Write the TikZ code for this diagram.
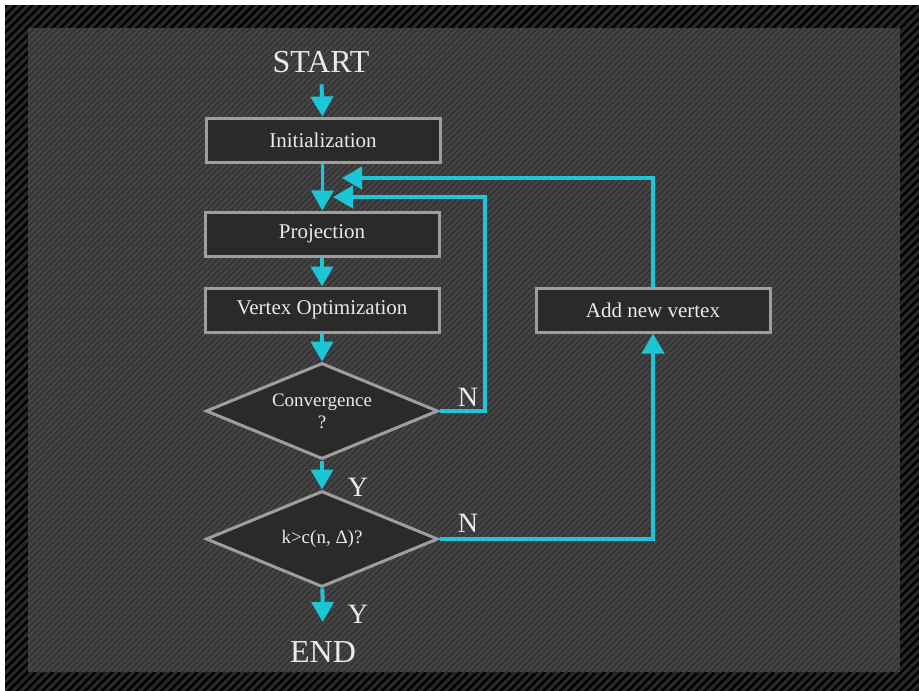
\documentclass[tikz,border=0pt]{standalone}
\usepackage{fontspec}
\setmainfont{Liberation Serif}
\usetikzlibrary{arrows.meta, shapes.geometric, patterns.meta}
\usepackage{xcolor}

\definecolor{flowcyan}{RGB}{28,198,214}
\definecolor{panelgray}{RGB}{68,68,68}
\definecolor{stripegray}{RGB}{46,46,46}
\definecolor{framedark}{RGB}{40,40,40}
\definecolor{boxfill}{RGB}{42,42,42}
\definecolor{boxline}{RGB}{158,158,158}
\definecolor{labelwhite}{RGB}{234,234,234}

\tikzset{
    procbox/.style={draw=boxline, line width=3pt, fill=boxfill, text=labelwhite,
        minimum width=234pt, minimum height=44pt, font=\fontsize{21}{23}\selectfont},
    decision/.style={diamond, draw=boxline, line width=3pt, fill=boxfill, text=labelwhite,
        aspect=2.4, inner sep=0pt, minimum width=232pt, minimum height=96pt,
        align=center, font=\fontsize{19}{22}\selectfont},
    terminal/.style={text=labelwhite, font=\fontsize{32}{34}\selectfont},
    yn/.style={text=labelwhite, font=\fontsize{28}{30}\selectfont},
    flow/.style={draw=flowcyan, line width=4pt, -{Triangle[width=22pt, length=20pt]}}
}

\begin{document}
\begin{tikzpicture}[x=1pt, y=-1pt]
    \fill[white] (0,0) rectangle (919,691);
    \useasboundingbox (0,0) rectangle (919,691);
    \fill[framedark] (5,5) rectangle (919,691);
    \pattern[pattern={Lines[angle=45, distance=6pt, line width=2.5pt]}, pattern color=black]
        (5,5) rectangle (919,691);
    \fill[panelgray] (28,28) rectangle (900,672);
    \pattern[pattern={Lines[angle=45, distance=4pt, line width=1.6pt]}, pattern color=stripegray]
        (28,28) rectangle (900,672);

    \node[terminal] (start) at (321,62) {START};
    \node[procbox] (init) at (323,140) {Initialization};
    \node[procbox] (proj) at (322,234) {Projection};
    \node[procbox] (vopt) at (322,310) {Vertex Optimization};
    \node[decision] (conv) at (322,411) {Convergence\\?};
    \node[decision] (kcheck) at (322,539) {k>c(n, Δ)?};
    \node[terminal] (finish) at (323,652) {END};
    \node[procbox] (addv) at (653,310) {Add new vertex};

    \node[yn] (nconv) at (468,397) {N};
    \node[yn] (yconv) at (358,487) {Y};
    \node[yn] (nk) at (468,523) {N};
    \node[yn] (yk) at (358,614) {Y};

    \coordinate (inmerge) at (333,197);
    \coordinate (outmerge) at (342,178);

    \draw[flow, shorten <=8pt] (start) -- (init);
    \draw[flow, line width=3pt] (init) -- (proj);
    \draw[flow] (proj) -- (vopt);
    \draw[flow] (vopt) -- (conv);
    \draw[flow] (conv) -- (kcheck);
    \draw[flow, shorten >=16pt] (kcheck) -- (finish);
    \draw[flow] (conv.east) -- ++(45,0) |- (inmerge);
    \draw[flow] (kcheck.east) -| (addv.south);
    \draw[flow] (addv.north) |- (outmerge);
\end{tikzpicture}
\end{document}
